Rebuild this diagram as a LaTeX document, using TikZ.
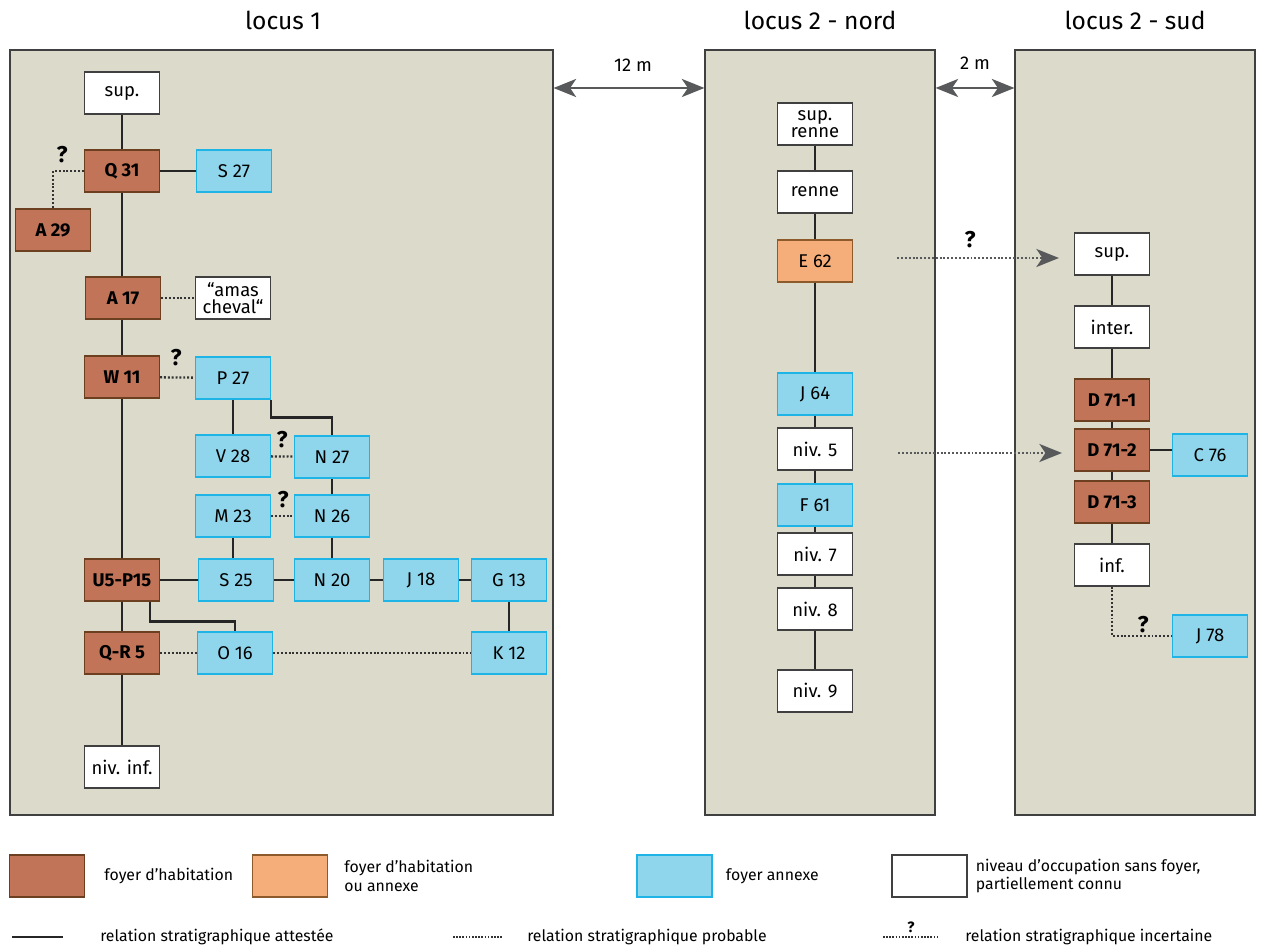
\documentclass[tikz,border=0pt]{standalone}
\usepackage{fontspec}
\setmainfont{Fira Sans}
\usetikzlibrary{positioning,arrows.meta,calc}
\definecolor{panelgrey}{HTML}{DCDACB}
\definecolor{habbrown}{HTML}{C27458}
\definecolor{habedge}{HTML}{6B3F1F}
\definecolor{mixorange}{HTML}{F5AD7A}
\definecolor{mixedge}{HTML}{8C5A2B}
\definecolor{annblue}{HTML}{8FD6EC}
\definecolor{annedge}{HTML}{1EB4E6}
\definecolor{arrgrey}{HTML}{58595B}

\begin{document}
\begin{tikzpicture}[x=0.02cm, y=-0.02cm,
    every node/.style={font=\fontsize{10.5}{11}\selectfont},
    panel/.style={draw=black!75, fill=panelgrey, line width=0.7pt, minimum height=15.3cm},
    titre/.style={font=\fontsize{14}{16}\selectfont},
    box/.style={draw, line width=0.7pt, minimum width=1.5cm, minimum height=0.84cm, inner sep=1pt, align=center},
    hab/.style={box, fill=habbrown, draw=habedge, font=\fontsize{10.5}{11}\selectfont\bfseries},
    mixte/.style={box, fill=mixorange, draw=mixedge},
    annexe/.style={box, fill=annblue, draw=annedge},
    niveau/.style={box, fill=white, draw=black!75},
    legtxt/.style={inner sep=0pt, align=left, font=\fontsize{9}{10.5}\selectfont},
    qm/.style={inner sep=0pt, font=\fontsize{13}{14}\selectfont\bfseries},
    attest/.style={line width=1.4pt, black!85},
    prob/.style={line width=1.3pt, black!80, dash pattern=on 1.1pt off 1.1pt},
    probarr/.style={prob, arrgrey, -{Stealth[length=0.45cm, width=0.36cm, inset=0.12cm]}},
    dist/.style={line width=1.6pt, arrgrey, {Stealth[length=0.45cm, width=0.36cm, inset=0.12cm]}-{Stealth[length=0.45cm, width=0.36cm, inset=0.12cm]}}]
  \useasboundingbox (0,0) rectangle (1265,949);

  % zones de fouille
  \node[panel, minimum width=10.86cm] (loc1) at (281.5,432.5) {};
  \node[panel, minimum width=4.6cm] (nord) at (820,432.5) {};
  \node[panel, minimum width=4.8cm] (sud) at (1135,432.5) {};
  \node[titre] (t1) at (283,20) {locus 1};
  \node[titre] (t2) at (820,20) {locus 2 - nord};
  \node[titre] (t3) at (1135,20) {locus 2 - sud};
  \draw[dist] (loc1.east |- 0,88) -- (nord.west |- 0,88);
  \draw[dist] (nord.east |- 0,88) -- (sud.west |- 0,88);
  \node (d12) at (633,65) {12 m};
  \node (d2) at (975,63) {2 m};

  % locus 1
  \node[niveau] (sup1) at (122,93) {sup.};
  \node[hab] (q31) at (122,171) {Q 31};
  \node[annexe] (s27) at (234,171) {S 27};
  \node[hab] (a29) at (53,230) {A 29};
  \node[hab] (a17) at (123,298) {A 17};
  \node[niveau, font=\fontsize{10.5}{10}\selectfont] (amas) at (233,298) {“amas\\cheval“};
  \node[hab] (w11) at (122,377) {W 11};
  \node[annexe] (p27) at (233,378) {P 27};
  \node[annexe] (v28) at (233,456) {V 28};
  \node[annexe] (n27) at (332,457) {N 27};
  \node[annexe] (m23) at (233,516) {M 23};
  \node[annexe] (n26) at (332,516) {N 26};
  \node[hab] (u5) at (122,580) {U5-P15};
  \node[annexe] (s25) at (236,580) {S 25};
  \node[annexe] (n20) at (332,580) {N 20};
  \node[annexe] (j18) at (421,580) {J 18};
  \node[annexe] (g13) at (509,580) {G 13};
  \node[hab] (qr5) at (122,653) {Q-R 5};
  \node[annexe] (o16) at (235,653) {O 16};
  \node[annexe] (k12) at (509,653) {K 12};
  \node[niveau] (ninf) at (122,767) {niv. inf.};

  \draw[attest] (sup1) -- (q31);
  \draw[attest] (q31) -- (s27);
  \draw[attest] (q31) -- (a17.north -| q31) (a17.south -| q31) -- (w11) -- (u5) -- (qr5) -- (ninf);
  \draw[prob] (q31.west) -| (a29.north);
  \node[qm] (qa) at (62,155) {?};
  \draw[prob] (a17) -- (amas);
  \draw[prob] (w11) -- (p27);
  \node[qm] (qb) at (176,358) {?};
  \draw[attest] (p27) -- (v28);
  \draw[attest] (p27.south east) -- ++(0,18) -| (n27.north);
  \draw[prob] (v28) -- (n27);
  \node[qm] (qc) at (282,440) {?};
  \draw[attest] (n27) -- (n26);
  \draw[prob] (m23) -- (n26);
  \node[qm] (qd) at (283,500) {?};
  \draw[attest] (m23) -- (m23 |- s25.north);
  \draw[attest] (n26) -- (n20);
  \draw[attest] (u5) -- (s25) -- (n20) -- (j18) -- (g13);
  \draw[attest] (g13) -- (k12);
  \draw[attest] ([xshift=-0.2cm]u5.south east) -- ++(0,20) -| (o16.north);
  \draw[prob] (qr5) -- (o16);
  \draw[prob] (o16) -- (k12);

  % locus 2 - nord
  \node[niveau, font=\fontsize{10.5}{10}\selectfont] (supr) at (815,124) {sup.\\renne};
  \node[niveau] (renne) at (815,192) {renne};
  \node[mixte] (e62) at (815,261) {E 62};
  \node[annexe] (j64) at (815,394) {J 64};
  \node[niveau] (niv5) at (815,449) {niv. 5};
  \node[annexe] (f61) at (815,505) {F 61};
  \node[niveau] (niv7) at (815,554) {niv. 7};
  \node[niveau] (niv8) at (815,609) {niv. 8};
  \node[niveau] (niv9) at (815,691) {niv. 9};
  \draw[attest] (supr) -- (renne) -- (e62) -- (j64) -- (niv5) -- (f61) -- (niv7) -- (niv8) -- (niv9);

  % locus 2 - sud
  \node[niveau] (sup2) at (1112,254) {sup.};
  \node[niveau] (inter) at (1112,327) {inter.};
  \node[hab] (d1) at (1112,400) {D 71-1};
  \node[hab] (d2) at (1112,450) {D 71-2};
  \node[hab] (d3) at (1112,502) {D 71-3};
  \node[niveau] (inf) at (1112,565) {inf.};
  \node[annexe] (c76) at (1210,455) {C 76};
  \node[annexe] (j78) at (1210,636) {J 78};
  \draw[attest] (sup2) -- (inter) -- (d1) -- (d2) -- (d3) -- (inf);
  \draw[attest] (d2) -- (d2 -| c76.west);
  \draw[prob] (inf.south) |- (j78.west);
  \node[qm] (qe) at (1143,625) {?};

  % correlations entre les deux parties du locus 2
  \draw[probarr] ($(e62.east)+(44,-3)$) -- ($(e62.east -| sup2.west)+(-15,-3)$);
  \node[qm] (qf) at (970,240) {?};
  \draw[probarr] ($(niv5.east)+(45,4)$) -- ($(niv5.east -| d2.west)+(-12,4)$);

  % legende
  \node[hab] (lhab) at (47,876) {};
  \node[legtxt, right=0.38cm of lhab] (thab) {foyer d’habitation};
  \node[mixte] (lmix) at (290,876) {};
  \node[legtxt, right=0.32cm of lmix] (tmix) {foyer d’habitation\\ou annexe};
  \node[annexe] (lann) at (674.5,876) {};
  \node[legtxt, right=0.26cm of lann] (tann) {foyer annexe};
  \node[niveau] (lniv) at (929.5,876) {};
  \node[legtxt, right=0.16cm of lniv] (tniv) {niveau d’occupation sans foyer,\\partiellement connu};
  \coordinate (la1) at (12,937);
  \coordinate (la2) at (63,937);
  \draw[attest] (la1) -- (la2);
  \node[legtxt, anchor=west] (tla) at (100,937) {relation stratigraphique attestée};
  \coordinate (lb1) at (453,937);
  \coordinate (lb2) at (503,937);
  \draw[prob, line width=0.9pt, dash pattern=on 0.9pt off 0.9pt] (lb1) -- (lb2);
  \node[legtxt, anchor=west] (tlb) at (527,937) {relation stratigraphique probable};
  \coordinate (lc1) at (883,937);
  \coordinate (lc2) at (938,937);
  \draw[prob, line width=0.9pt, dash pattern=on 0.9pt off 0.9pt] (lc1) -- (lc2);
  \node[qm, font=\fontsize{8.5}{9}\selectfont\bfseries] (qg) at (911,927) {?};
  \node[legtxt, anchor=west] (tlc) at (965,937) {relation stratigraphique incertaine};
\end{tikzpicture}
\end{document}
